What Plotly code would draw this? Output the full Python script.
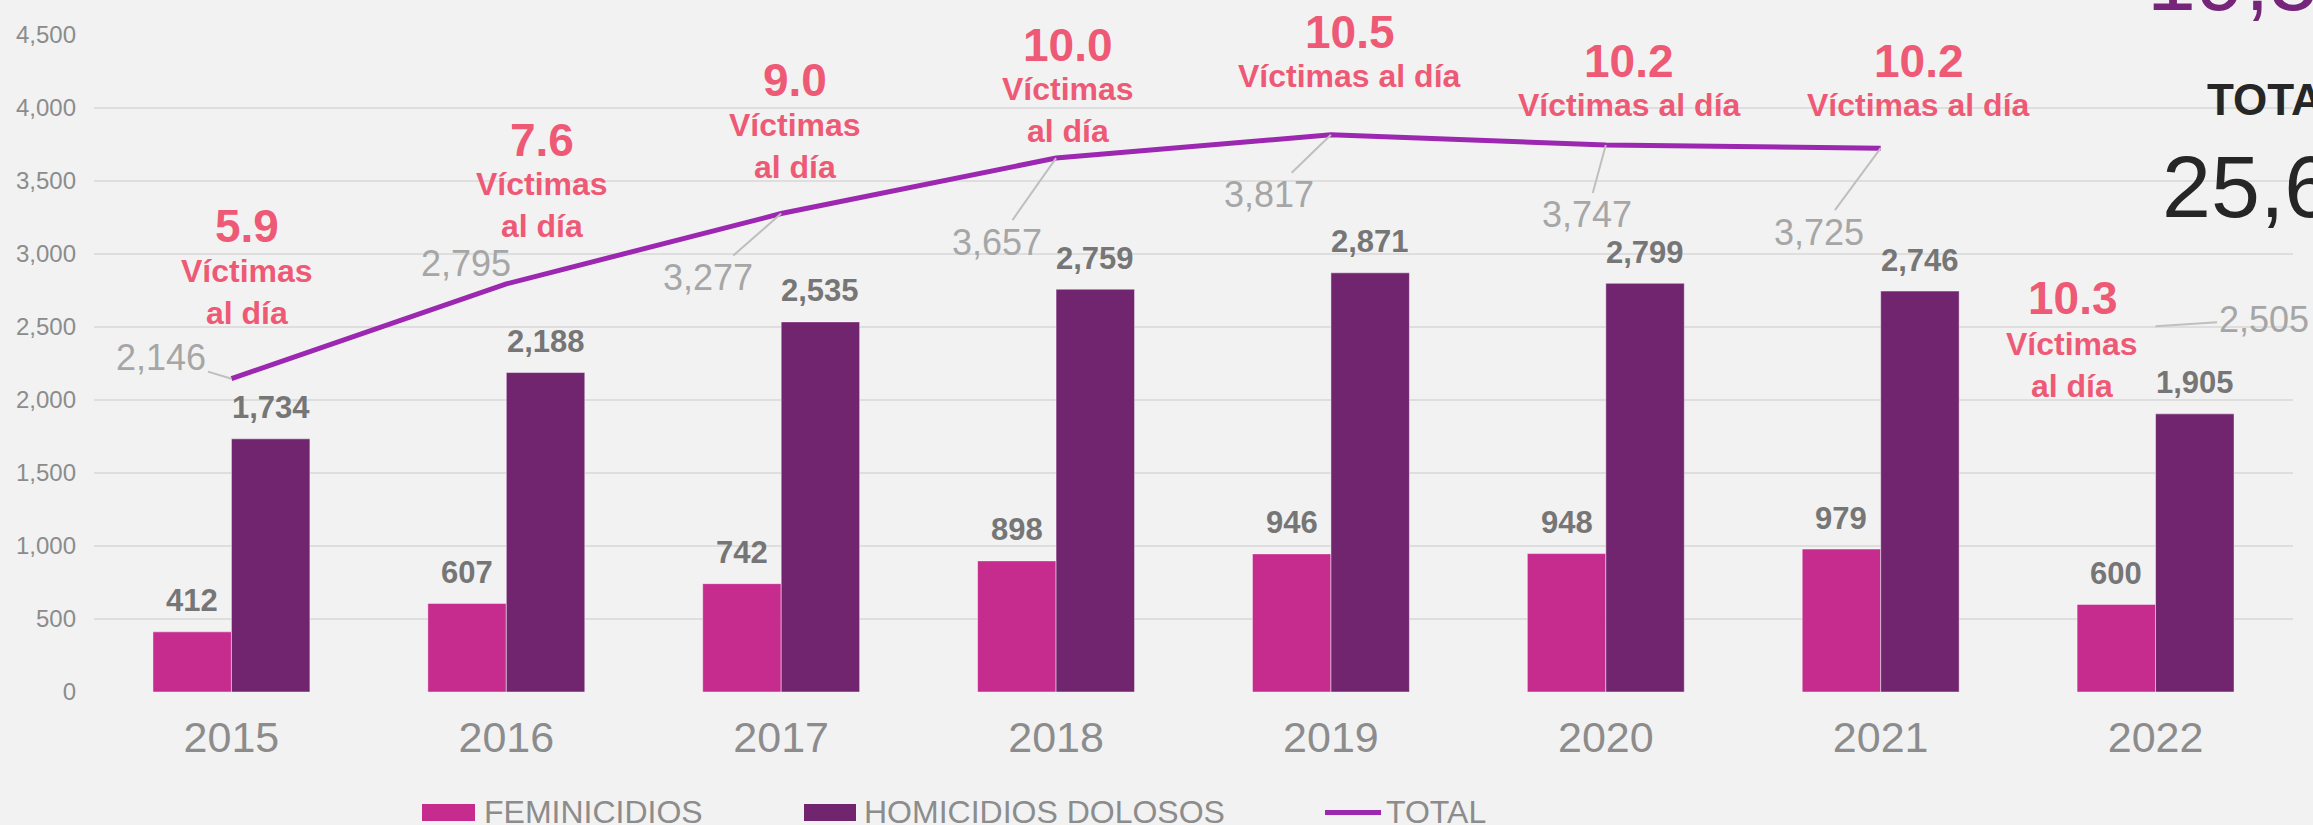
import plotly.graph_objects as go

# ---------------- data ----------------
years = ["2015", "2016", "2017", "2018", "2019", "2020", "2021", "2022"]
feminicidios = [412, 607, 742, 898, 946, 948, 979, 600]
homicidios = [1734, 2188, 2535, 2759, 2871, 2799, 2746, 1905]
total = [2146, 2795, 3277, 3657, 3817, 3747, 3725, 2505]
victimas_dia = [5.9, 7.6, 9.0, 10.0, 10.5, 10.2, 10.2, 10.3]
y_ticks = [0, 500, 1000, 1500, 2000, 2500, 3000, 3500, 4000, 4500]
series_names = ["FEMINICIDIOS", "HOMICIDIOS DOLOSOS", "TOTAL"]
line_years = 7  # the TOTAL line is drawn 2015-2021

# ---------------- layout / style ----------------
W, H = 2313, 825
ML, MR, MT, MB = 94, 20, 35, 133
PW, PH = W - ML - MR, H - MT - MB
BARGAP = 0.429

FEM = "#C62B8E"
HOM = "#71256E"
LINE = "#9C27B0"
PINK = "#EE5A75"
LBL = "#767676"
TOTG = "#A6A6A6"
AXG = "#8C8C8C"
GRID = "#DEDEDE"
BG = "#F2F2F2"
FONT = "Liberation Sans, Arial, sans-serif"


def pxx(x):
    return (x - ML) / PW


def pxy(y):
    return (H - MB - y) / PH


fig = go.Figure()
fig.add_trace(go.Bar(x=years, y=feminicidios, name=series_names[0],
                     marker=dict(color=FEM, line=dict(color="rgba(255,255,255,0.45)", width=1))))
fig.add_trace(go.Bar(x=years, y=homicidios, name=series_names[1],
                     marker=dict(color=HOM, line=dict(color="rgba(255,255,255,0.45)", width=1))))
fig.add_trace(go.Scatter(x=years[:line_years], y=total[:line_years], name=series_names[2],
                         mode="lines", line=dict(color=LINE, width=5)))

ann = []
# bar value labels (x given as category index)
half = (1 - BARGAP) / 4
for i, (f, h) in enumerate(zip(feminicidios, homicidios)):
    for xx, v in ((i - half, f), (i + half, h)):
        ann.append(dict(x=xx, y=v, xref="x", yref="y", text=f"<b>{v:,}</b>", showarrow=False,
                        yanchor="middle", yshift=31,
                        font=dict(family=FONT, size=31, color=LBL)))

# TOTAL labels with leaders (pixel offsets text-centre minus point)
tot_offsets = [(-70, -21), (-40, -20), (-73, 64), (-59, 84), (-62, 60), (-19, 70), (-62, 84), (108, -7)]
tot_leader = [True, False, True, True, True, True, True, True]
for i, v in enumerate(total):
    axo, ayo = tot_offsets[i]
    ann.append(dict(x=i, y=v, xref="x", yref="y", text=f"{v:,}", showarrow=True,
                    ax=axo, ay=ayo, arrowhead=0, arrowwidth=2, standoff=0,
                    arrowcolor="#BFBFBF" if tot_leader[i] else "rgba(0,0,0,0)",
                    font=dict(family=FONT, size=36, color=TOTG)))

# victims per day labels (pixel centres)
rate_num_px = [(247, 226.5), (542, 140.5), (795, 80.5), (1068, 45), (1350, 31.5),
               (1629, 61), (1919, 61), (2073, 298.5)]
rate_txt_px = [(247, 291.5), (542, 205), (795, 145.5), (1068, 110), (1349, 76.5),
               (1629, 105), (1919, 105), (2072, 364.5)]
rate_txt = ["Víctimas<br>al día"] * 4 + ["Víctimas al día"] * 3 + ["Víctimas<br>al día"]
for i, r in enumerate(victimas_dia):
    nx, ny = rate_num_px[i]
    tx, ty = rate_txt_px[i]
    ann.append(dict(x=pxx(nx), y=pxy(ny), xref="paper", yref="paper", text=f"<b>{r:.1f}</b>",
                    showarrow=False, xanchor="center", yanchor="middle",
                    font=dict(family=FONT, size=46, color=PINK)))
    ann.append(dict(x=pxx(tx), y=pxy(ty), xref="paper", yref="paper", text=f"<b>{rate_txt[i]}</b>",
                    showarrow=False, xanchor="center", yanchor="middle",
                    font=dict(family=FONT, size=32, color=PINK)))

# top-right summary (partly outside the canvas, as in the original)
ann.append(dict(x=pxx(2145), y=pxy(-21), xref="paper", yref="paper", text=f"{sum(homicidios):,}",
                showarrow=False, xanchor="left", yanchor="middle",
                font=dict(family=FONT, size=88, color="#76267A")))
ann.append(dict(x=pxx(2205), y=pxy(99.5), xref="paper", yref="paper", text="<b>TOTAL</b>",
                showarrow=False, xanchor="left", yanchor="middle",
                font=dict(family=FONT, size=44, color="#262626")))
ann.append(dict(x=pxx(2160), y=pxy(186), xref="paper", yref="paper", text=f"{sum(total):,}",
                showarrow=False, xanchor="left", yanchor="middle",
                font=dict(family=FONT, size=88, color="#262626")))

# custom legend
shapes = []
leg_items = [(422, 475, 482, FEM, "rect"), (804, 856, 862, HOM, "rect"), (1325, 1381, 1384, LINE, "line")]
for (x0, x1, xt, col, kind), name in zip(leg_items, series_names):
    if kind == "rect":
        shapes.append(dict(type="rect", xref="paper", yref="paper", x0=pxx(x0), x1=pxx(x1),
                           y0=pxy(821), y1=pxy(804), fillcolor=col, line=dict(width=0)))
    else:
        shapes.append(dict(type="line", xref="paper", yref="paper", x0=pxx(x0), x1=pxx(x1),
                           y0=pxy(812.5), y1=pxy(812.5), line=dict(color=col, width=5)))
    ann.append(dict(x=pxx(xt), y=pxy(811.5), xref="paper", yref="paper", text=name,
                    showarrow=False, xanchor="left", yanchor="middle",
                    font=dict(family=FONT, size=32, color=AXG)))

fig.update_layout(
    width=W, height=H,
    margin=dict(l=ML, r=MR, t=MT, b=MB, autoexpand=False),
    paper_bgcolor=BG, plot_bgcolor=BG,
    barmode="group", bargap=BARGAP, bargroupgap=0,
    showlegend=False,
    annotations=ann, shapes=shapes,
    font=dict(family=FONT),
    xaxis=dict(type="category", categoryorder="array", categoryarray=years,
               range=[-0.5, len(years) - 0.5], autorange=False,
               showgrid=False, showline=False, zeroline=False, ticks="",
               tickfont=dict(family=FONT, size=43, color=AXG), ticklabelstandoff=16),
    yaxis=dict(range=[0, 4500], autorange=False, tickvals=y_ticks, tickformat=",", showgrid=True,
               gridcolor=GRID, gridwidth=2, zeroline=False, showline=False, ticks="",
               tickfont=dict(family=FONT, size=24, color=AXG), ticklabelstandoff=17),
)

fig.write_html("out.html", config={"displayModeBar": False},
               post_script="document.body.style.margin='0';document.body.style.overflow='hidden';")
